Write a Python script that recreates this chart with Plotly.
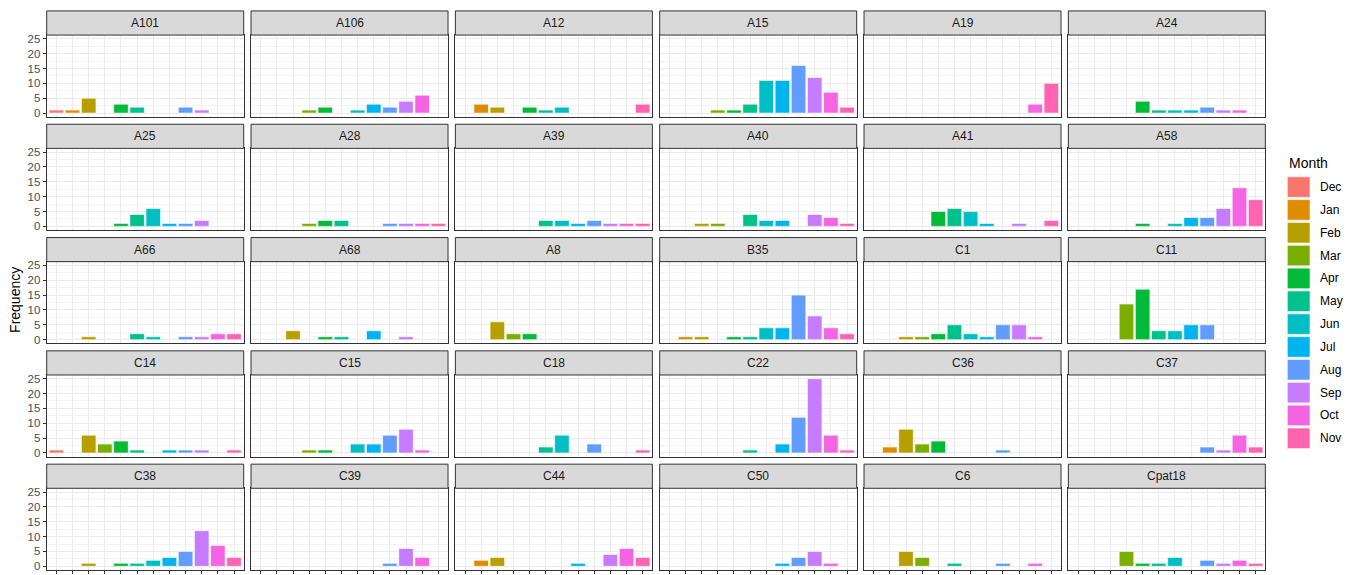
import plotly.graph_objects as go

months = ["Dec", "Jan", "Feb", "Mar", "Apr", "May", "Jun", "Jul", "Aug", "Sep", "Oct", "Nov"]
month_colors = ["#F8766D", "#DE8C00", "#B79F00", "#7CAE00", "#00BA38", "#00C08B",
                "#00BFC4", "#00B4F0", "#619CFF", "#C77CFF", "#F564E3", "#FF64B0"]

sites = ["A101", "A106", "A12", "A15", "A19", "A24",
         "A25", "A28", "A39", "A40", "A41", "A58",
         "A66", "A68", "A8", "B35", "C1", "C11",
         "C14", "C15", "C18", "C22", "C36", "C37",
         "C38", "C39", "C44", "C50", "C6", "Cpat18"]

# counts per site, in the order of `months`
freq = [
    [1, 1, 5, 0, 3, 2, 0, 0, 2, 1, 0, 0],     # A101
    [0, 0, 0, 1, 2, 0, 1, 3, 2, 4, 6, 0],     # A106
    [0, 3, 2, 0, 2, 1, 2, 0, 0, 0, 0, 3],     # A12
    [0, 0, 0, 1, 1, 3, 11, 11, 16, 12, 7, 2], # A15
    [0, 0, 0, 0, 0, 0, 0, 0, 0, 0, 3, 10],    # A19
    [0, 0, 0, 0, 4, 1, 1, 1, 2, 1, 1, 0],     # A24
    [0, 0, 0, 0, 1, 4, 6, 1, 1, 2, 0, 0],     # A25
    [0, 0, 0, 1, 2, 2, 0, 0, 1, 1, 1, 1],     # A28
    [0, 0, 0, 0, 0, 2, 2, 1, 2, 1, 1, 1],     # A39
    [0, 0, 1, 1, 0, 4, 2, 2, 0, 4, 3, 1],     # A40
    [0, 0, 0, 0, 5, 6, 5, 1, 0, 1, 0, 2],     # A41
    [0, 0, 0, 0, 1, 0, 1, 3, 3, 6, 13, 9],    # A58
    [0, 0, 1, 0, 0, 2, 1, 0, 1, 1, 2, 2],     # A66
    [0, 0, 3, 0, 1, 1, 0, 3, 0, 1, 0, 0],     # A68
    [0, 0, 6, 2, 2, 0, 0, 0, 0, 0, 0, 0],     # A8
    [0, 1, 1, 0, 1, 1, 4, 4, 15, 8, 4, 2],    # B35
    [0, 0, 1, 1, 2, 5, 2, 1, 5, 5, 1, 0],     # C1
    [0, 0, 0, 12, 17, 3, 3, 5, 5, 0, 0, 0],   # C11
    [1, 0, 6, 3, 4, 1, 0, 1, 1, 1, 0, 1],     # C14
    [0, 0, 0, 1, 1, 0, 3, 3, 6, 8, 1, 0],     # C15
    [0, 0, 0, 0, 0, 2, 6, 0, 3, 0, 0, 1],     # C18
    [0, 0, 0, 0, 0, 1, 0, 3, 12, 25, 6, 1],   # C22
    [0, 2, 8, 3, 4, 0, 0, 0, 1, 0, 0, 0],     # C36
    [0, 0, 0, 0, 0, 0, 0, 0, 2, 1, 6, 2],     # C37
    [0, 0, 1, 0, 1, 1, 2, 3, 5, 12, 7, 3],    # C38
    [0, 0, 0, 0, 0, 0, 0, 0, 1, 6, 3, 0],     # C39
    [0, 2, 3, 0, 0, 0, 0, 1, 0, 4, 6, 3],     # C44
    [0, 0, 0, 0, 0, 0, 0, 1, 3, 5, 1, 0],     # C50
    [0, 0, 5, 3, 0, 1, 0, 0, 1, 0, 1, 0],     # C6
    [0, 0, 0, 5, 1, 1, 3, 0, 2, 1, 2, 1],     # Cpat18
]

y_ticks = [0, 5, 10, 15, 20, 25]

# ---------------- layout geometry (pixels) ----------------
W, H = 1353, 575
NCOL, NROW = 6, 5
col_x0, col_stride, panel_w = 46.7, 204.33, 197.0
row_y0, row_stride, strip_h, panel_h = 9.0, 114.1, 24.3, 82.3

FONT = "Liberation Sans, Arial, sans-serif"


def fx(px):
    return px / W


def fy(py):
    return 1 - py / H


fig = go.Figure()
layout = dict(
    width=W, height=H,
    margin=dict(l=0, r=0, t=0, b=0, pad=0),
    paper_bgcolor="white", plot_bgcolor="white",
    showlegend=False, bargap=0.1,
    font=dict(family=FONT, size=11, color="#4D4D4D"),
)
shapes, annotations = [], []

for i, site in enumerate(sites):
    r, c = divmod(i, NCOL)
    k = i + 1
    xn = "x" if k == 1 else f"x{k}"
    yn = "y" if k == 1 else f"y{k}"
    xk = "xaxis" if k == 1 else f"xaxis{k}"
    yk = "yaxis" if k == 1 else f"yaxis{k}"

    x0 = col_x0 + c * col_stride
    x1 = x0 + panel_w
    st = row_y0 + r * row_stride
    pt = st + strip_h
    pb = pt + panel_h

    vals = freq[i]
    xs = [m for m, v in zip(months, vals) if v > 0]
    ys = [v for v in vals if v > 0]
    cs = [col for col, v in zip(month_colors, vals) if v > 0]
    fig.add_trace(go.Bar(
        x=xs, y=ys, xaxis=xn, yaxis=yn, width=0.9,
        marker=dict(color=cs, line=dict(color="white", width=0.6)),
        showlegend=False, hovertemplate="%{x}: %{y}<extra>" + site + "</extra>",
    ))

    bottom = (r == NROW - 1)
    left = (c == 0)
    layout[xk] = dict(
        domain=[fx(x0), fx(x1)], anchor=yn,
        type="category", categoryorder="array", categoryarray=months,
        range=[-0.6, 11.6], tickmode="array", tickvals=months,
        showticklabels=False,
        ticks="outside" if bottom else "", ticklen=3, tickwidth=1, tickcolor="#333333",
        showgrid=True, gridcolor="#EBEBEB", gridwidth=1,
        showline=True, mirror=True, linecolor="#333333", linewidth=1,
        zeroline=False, fixedrange=True,
    )
    layout[yk] = dict(
        domain=[fy(pb), fy(pt)], anchor=xn,
        range=[-1.25, 26.25], tickmode="array", tickvals=y_ticks,
        showticklabels=left, ticks="outside" if left else "", ticklen=3,
        tickwidth=1, tickcolor="#333333",
        tickfont=dict(family=FONT, size=11.5, color="#4D4D4D"),
        showgrid=True, gridcolor="#EBEBEB", gridwidth=1,
        minor=dict(tickvals=[2.5, 7.5, 12.5, 17.5, 22.5], showgrid=True,
                   gridcolor="#F4F4F4", gridwidth=1, ticks=""),
        showline=True, mirror=True, linecolor="#333333", linewidth=1,
        zeroline=False, fixedrange=True,
    )

    # facet strip
    shapes.append(dict(type="rect", xref="paper", yref="paper",
                       x0=fx(x0), x1=fx(x1), y0=fy(pt), y1=fy(st),
                       fillcolor="#D9D9D9", line=dict(color="#333333", width=1),
                       layer="above"))
    annotations.append(dict(text=site, xref="paper", yref="paper",
                            x=fx((x0 + x1) / 2), y=fy((st + pt) / 2),
                            xanchor="center", yanchor="middle", showarrow=False,
                            font=dict(family=FONT, size=12, color="#1A1A1A")))

# y axis title
annotations.append(dict(text="Frequency", xref="paper", yref="paper",
                        x=fx(15), y=fy(300), textangle=-90, showarrow=False,
                        xanchor="center", yanchor="middle",
                        font=dict(family=FONT, size=14, color="#000000")))

# legend (drawn manually to mimic ggplot keys)
annotations.append(dict(text="Month", xref="paper", yref="paper",
                        x=fx(1287), y=fy(162), xanchor="left", yanchor="middle",
                        showarrow=False, font=dict(family=FONT, size=14, color="#000000")))
key_top, key_h, key_stride = 176.0, 20.7, 23.0
for j, (m, col) in enumerate(zip(months, month_colors)):
    t = key_top + j * key_stride
    shapes.append(dict(type="rect", xref="paper", yref="paper",
                       x0=fx(1287.3), x1=fx(1310), y0=fy(t + key_h), y1=fy(t),
                       fillcolor=col, line=dict(color="white", width=0.6)))
    annotations.append(dict(text=m, xref="paper", yref="paper",
                            x=fx(1317.5), y=fy(t + key_h / 2), xanchor="left",
                            yanchor="middle", showarrow=False,
                            font=dict(family=FONT, size=12, color="#000000")))

layout["shapes"] = shapes
layout["annotations"] = annotations
fig.update_layout(**layout)
fig.write_html(
    "out.html",
    config={"displayModeBar": False, "staticPlot": False},
    post_script="document.body.style.margin='0';document.body.style.padding='0';"
                "document.body.style.overflow='hidden';",
)
